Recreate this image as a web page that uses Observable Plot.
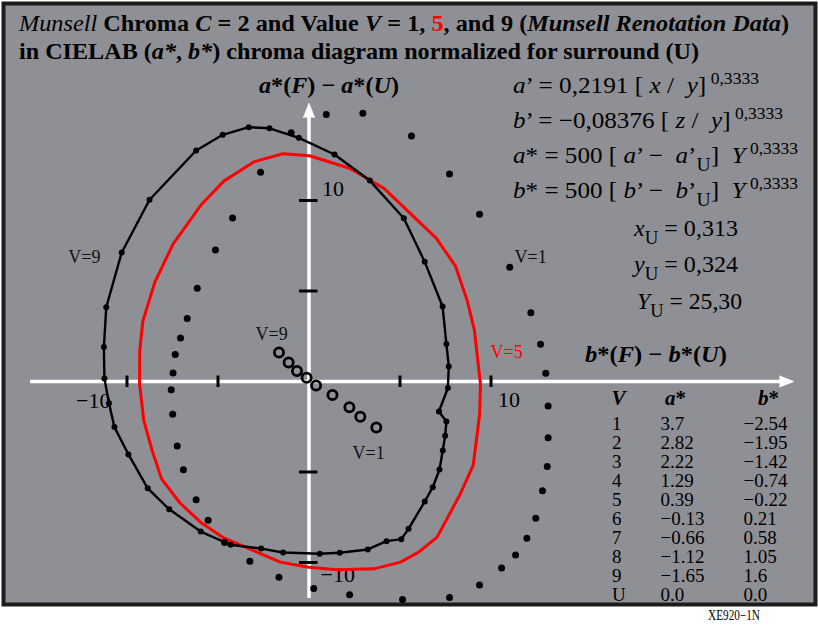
<!DOCTYPE html>
<html>
<head>
<meta charset="utf-8">
<script src="https://cdn.jsdelivr.net/npm/d3@7"></script>
<script src="https://cdn.jsdelivr.net/npm/@observablehq/plot@0.6"></script>
<style>
  body { margin: 0; background: #fff; }
  svg { display: block; }
</style>
</head>
<body>
<div id="chart"></div>
<script>
// Munsell Chroma 2 hue loops in the (a*, b*) plane, relative to the surround U.
// Value 9: connected loop with markers
const v9a = [-3.31,-2.17,-0.56,1.40,3.34,5.21,6.36,7.34,7.55,7.68,7.63,7.14,7.55,7.48,7.35,7.17,6.80,6.36,5.47,5.07,4.26,3.23,1.69,0.59,-1.42,-2.63,-4.31,-5.95,-7.68,-8.86,-9.92,-10.69,-10.99,-11.24,-11.27,-11.14,-10.29,-8.76,-6.20,-4.74];
const v9b = [14.05,13.99,13.46,12.54,11.10,9.02,6.61,4.14,2.07,0.83,-0.36,-1.66,-2.21,-3.00,-3.81,-4.86,-5.84,-6.63,-8.14,-8.71,-8.82,-9.28,-9.46,-9.52,-9.45,-9.23,-9.02,-8.29,-7.06,-5.90,-4.03,-2.52,-1.20,0.17,1.90,4.10,7.13,10.04,12.76,13.63];
// Value 5: red outline
const v5a = [-1.44,0.03,2.23,4.11,6.99,8.05,8.69,9.09,9.42,9.38,9.02,8.32,7.04,6.03,5.03,3.56,1.55,-0.01,-1.57,-4.68,-5.96,-7.10,-8.10,-8.62,-9.08,-9.31,-9.30,-9.13,-8.47,-7.48,-5.91,-4.68,-2.99];
const v5b = [12.58,12.47,11.78,10.68,7.92,6.37,4.48,2.82,-0.13,-1.78,-4.64,-6.20,-8.60,-9.43,-9.98,-10.35,-10.40,-10.26,-9.98,-8.64,-7.77,-6.70,-5.38,-3.81,-2.15,-0.13,1.71,3.33,5.49,7.57,9.78,11.07,12.15];
// Value 1: separate markers
const v1a = [0.95,2.96,5.63,7.72,9.37,11.03,12.19,12.72,13.01,13.14,13.14,13.09,12.83,12.46,11.97,11.35,10.58,9.37,7.72,5.14,2.23,0.26,-1.65,-3.25,-4.64,-5.54,-6.20,-6.90,-7.24,-7.49,-7.57,-7.47,-7.35,-7.06,-6.69,-6.14,-5.14,-4.20,-2.66,-0.98];
const v1b = [14.75,14.82,13.57,11.46,9.24,6.31,3.80,2.06,0.46,-1.36,-3.11,-4.70,-6.04,-7.55,-8.66,-9.58,-10.31,-11.24,-11.93,-12.04,-11.78,-11.44,-10.81,-9.93,-8.90,-7.66,-6.54,-4.88,-3.56,-1.81,-0.45,0.47,1.49,2.40,3.48,5.15,7.27,9.04,11.56,13.74];

// Grey (achromatic) centre per value: table and open circles
const tableV = ["1","2","3","4","5","6","7","8","9","U"];
const tableA = [3.7,2.82,2.22,1.29,0.39,-0.13,-0.66,-1.12,-1.65,0.0];
const tableB = [-2.54,-1.95,-1.42,-0.74,-0.22,0.21,0.58,1.05,1.6,0.0];

const xTicks = [-10,-5,5,10];
const yTicks = [-10,-5,5,10];

// Page geometry
const W = 818, H = 626;
const mL = 3, mR = 3, mT = 3, mB = 22;
const ox = 308.5, oy = 381, kx = 18.2, ky = 18.1;  // origin and px per unit
const px2x = p => (p - ox) / kx;
const px2y = p => (oy - p) / ky;

const serif = "Liberation Serif, 'Times New Roman', serif";
const fmt = v => v === 0 ? "0.0" : String(v).replace("-", "\u2212");

const loop9 = v9a.map((a, i) => ({a, b: v9b[i]}));
const loop5 = v5a.map((a, i) => ({a, b: v5b[i]}));
const loop1 = v1a.map((a, i) => ({a, b: v1b[i]}));
const greys = tableV.map((v, i) => ({v, a: tableA[i], b: tableB[i], i}));
const greyCircles = greys.filter(d => d.v !== "U");

const rowBase = i => 429 + 19 * i;

const chart = Plot.plot({
  width: W, height: H,
  marginLeft: mL, marginRight: mR, marginTop: mT, marginBottom: mB,
  x: {domain: [px2x(mL), px2x(W - mR)], axis: null},
  y: {domain: [px2y(H - mB), px2y(mT)], axis: null},
  style: {fontFamily: serif, fontSize: "18px", background: "#fff", overflow: "visible"},
  marks: [
    Plot.frame({fill: "#8f9095", stroke: "#1c1c1c", strokeWidth: 4}),
    // white axes with arrow heads
    Plot.ruleY([0], {x1: px2x(30), x2: px2x(782), stroke: "white", strokeWidth: 3.5}),
    Plot.ruleX([0], {y1: px2y(598), y2: px2y(115), stroke: "white", strokeWidth: 3.5}),
    Plot.vector([0], {x: px2x(779), y: 0, rotate: 90, length: 14, anchor: "start", shape: "spike", r: 5.5, fill: "white", stroke: "white", strokeWidth: 1}),
    Plot.vector([0], {x: 0, y: px2y(117), rotate: 0, length: 14, anchor: "start", shape: "spike", r: 5.5, fill: "white", stroke: "white", strokeWidth: 1}),
    // ticks
    Plot.ruleX(xTicks, {x: d => d, y1: px2y(387), y2: px2y(375.5), stroke: "black", strokeWidth: 3}),
    Plot.ruleY(yTicks, {y: d => d, x1: px2x(299), x2: px2x(317.5), stroke: "black", strokeWidth: 3}),
    // tick labels
    Plot.text([-10], {x: d => d, y: 0, text: fmt, textAnchor: "end", lineAnchor: "bottom", dx: -16.5, dy: 26, fontSize: 22}),
    Plot.text([10], {x: d => d, y: 0, text: fmt, textAnchor: "start", lineAnchor: "bottom", dx: 7, dy: 25, fontSize: 22}),
    Plot.text([10], {x: 0, y: d => d, text: fmt, textAnchor: "start", lineAnchor: "bottom", dx: 13, dy: -5, fontSize: 22}),
    Plot.text([-10], {x: 0, y: d => d, text: fmt, textAnchor: "start", lineAnchor: "bottom", dx: 11.5, dy: 19, fontSize: 22}),
    // V = 5 loop
    Plot.line(loop5, {x: "a", y: "b", curve: "linear-closed", stroke: "#ff0000", strokeWidth: 3}),
    // V = 9 loop
    Plot.line(loop9, {x: "a", y: "b", curve: "linear-closed", stroke: "black", strokeWidth: 2.4}),
    Plot.dot(loop9, {x: "a", y: "b", r: 3, fill: "black"}),
    // V = 1 markers
    Plot.dot(loop1, {x: "a", y: "b", r: 3.5, fill: "black"}),
    // grey centres
    Plot.dot(greyCircles, {x: "a", y: "b", r: 4.6, stroke: "black", strokeWidth: 2.8, fill: "none"}),
    // series labels
    Plot.text(["V=9"], {x: px2x(100), y: px2y(262), textAnchor: "end", lineAnchor: "bottom", fontSize: 18, fill: "#111"}),
    Plot.text(["V=1"], {x: px2x(514), y: px2y(262), textAnchor: "start", lineAnchor: "bottom", fontSize: 18, fill: "#111"}),
    Plot.text(["V=5"], {x: px2x(490), y: px2y(357), textAnchor: "start", lineAnchor: "bottom", fontSize: 18, fill: "#ff0000"}),
    Plot.text(["V=9"], {x: px2x(255), y: px2y(339), textAnchor: "start", lineAnchor: "bottom", fontSize: 18, fill: "#111"}),
    Plot.text(["V=1"], {x: px2x(352), y: px2y(458), textAnchor: "start", lineAnchor: "bottom", fontSize: 18, fill: "#111"}),
    // table of grey centres
    Plot.text(greys, {x: () => px2x(611.5), y: d => px2y(rowBase(d.i)), text: "v", textAnchor: "start", lineAnchor: "bottom", fontSize: 19}),
    Plot.text(greys, {x: () => px2x(660), y: d => px2y(rowBase(d.i)), text: d => fmt(d.a), textAnchor: "start", lineAnchor: "bottom", fontSize: 19}),
    Plot.text(greys, {x: () => px2x(743), y: d => px2y(rowBase(d.i)), text: d => fmt(d.b), textAnchor: "start", lineAnchor: "bottom", fontSize: 19})
  ]
});

document.getElementById("chart").appendChild(chart);

// Rich text lines (titles and formulas)
const svg = d3.select(chart);
function rich(x, y, parts, {size = 23, length = null} = {}) {
  const t = svg.append("text")
    .attr("x", x).attr("y", y)
    .attr("font-size", size)
    .attr("font-family", serif)
    .attr("text-anchor", "start")
    .attr("fill", "black")
    .style("white-space", "pre");
  if (length) t.attr("textLength", length).attr("lengthAdjust", "spacingAndGlyphs");
  let shift = 0;
  for (const [s, st = ""] of parts) {
    const sp = t.append("tspan").text(s);
    if (st.includes("b")) sp.attr("font-weight", "bold");
    if (st.includes("i")) sp.attr("font-style", "italic");
    if (st.includes("r")) sp.attr("fill", "#ff0000");
    let target = 0;
    if (st.includes("^")) { target = -9; sp.attr("font-size", 16); }
    if (st.includes("_")) { target = 8; sp.attr("font-size", 18); }
    if (target !== shift) { sp.attr("dy", target - shift); shift = target; }
  }
  return t;
}

rich(19, 31, [["Munsell", "i"], [" Chroma ", "b"], ["C", "bi"], [" = 2 and Value ", "b"], ["V", "bi"],
  [" = 1, ", "b"], ["5", "br"], [", and 9 ", "b"], ["(", "b"], ["Munsell Renotation Data", "bi"], [")", "b"]],
  {size: 23, length: 770});
rich(19, 59, [["in CIELAB (", "b"], ["a*", "bi"], [", ", "b"], ["b*", "bi"],
  [") chroma diagram normalized for surround (U)", "b"]], {size: 23, length: 680});
rich(259, 93, [["a", "bi"], ["*(", "b"], ["F", "bi"], [") \u2212 ", "b"], ["a", "bi"], ["*(", "b"], ["U", "bi"], [")", "b"]],
  {size: 23, length: 140});
rich(585, 362, [["b", "bi"], ["*(", "b"], ["F", "bi"], [") \u2212 ", "b"], ["b", "bi"], ["*(", "b"], ["U", "bi"], [")", "b"]],
  {size: 23, length: 142});

rich(513, 93, [["a", "i"], ["\u2019 = 0,2191 [ "], ["x", "i"], [" /  "], ["y", "i"], ["]"], [" 0,3333", "^"]], {length: 246});
rich(513, 128, [["b", "i"], ["\u2019 = \u22120,08376 [ "], ["z", "i"], [" /  "], ["y", "i"], ["]"], [" 0,3333", "^"]], {length: 270});
rich(513, 163, [["a", "i"], ["* = 500 [ "], ["a", "i"], ["\u2019 \u2212  "], ["a", "i"], ["\u2019"], ["U", "_"], ["]  "], ["Y", "i"], [" 0,3333", "^"]], {length: 285});
rich(513, 197.5, [["b", "i"], ["* = 500 [ "], ["b", "i"], ["\u2019 \u2212  "], ["b", "i"], ["\u2019"], ["U", "_"], ["]  "], ["Y", "i"], [" 0,3333", "^"]], {length: 285});
rich(634, 236, [["x", "i"], ["U", "_"], [" = 0,313"]], {length: 104});
rich(634, 272, [["y", "i"], ["U", "_"], [" = 0,324"]], {length: 104});
rich(637, 308.5, [["Y", "i"], ["U", "_"], [" = 25,30"]], {length: 105});

// table header
rich(611.5, 405, [["V", "bi"]], {size: 21});
rich(665, 405, [["a", "bi"], ["*", "b"]], {size: 21});
rich(758, 405, [["b", "bi"], ["*", "b"]], {size: 21});

rich(708, 620, [["XE920\u22121N"]], {size: 14, length: 52});
</script>
</body>
</html>
